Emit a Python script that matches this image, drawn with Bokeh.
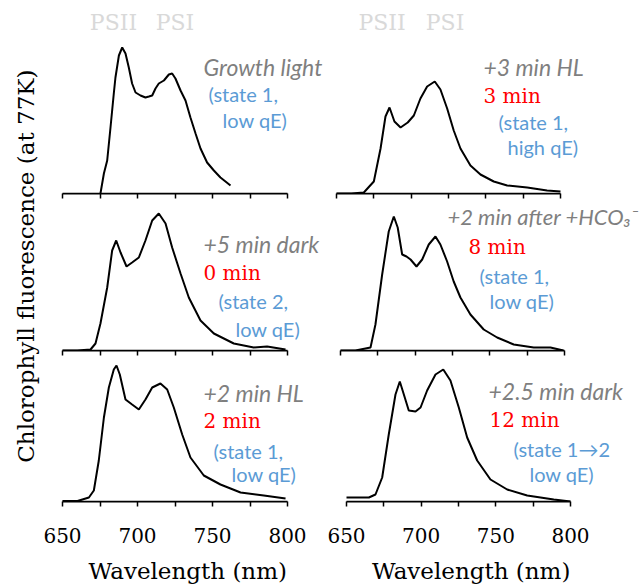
from bokeh.plotting import figure
from bokeh.models import Range1d, FixedTicker, Label
from bokeh.layouts import row, column
from bokeh.embed import file_html
from bokeh.resources import INLINE

# 77K chlorophyll fluorescence emission spectra (relative units)
wl_growth = [675.3, 677.6, 679.8, 682, 684.2, 685.3, 687.6, 689.8, 692, 694.2, 696.4, 698.7, 702,
             705.3, 707.6, 709.8, 712, 714.2, 717.6, 720.9, 723.1, 725.3, 728.7, 732, 735.3,
             738.7, 742, 746.4, 750.9, 755.3, 762]
fl_growth = [0, 20, 33, 66, 100, 116, 138, 146, 140, 126, 110, 101, 98,
             96, 97, 98, 105, 110, 113, 119, 120, 115, 103, 93, 76,
             60, 45, 31, 23, 16, 8]

wl_hl3 = [650, 660, 668.3, 675, 679.5, 682.8, 685.5, 688.8, 692.9, 697.7, 701.8, 706.2, 710.7,
          715.8, 719.6, 724.1, 728.5, 733, 739.7, 746.4, 755.3, 764.3, 777.7, 791, 800]
fl_hl3 = [0, 0, 1, 12, 45, 77, 86, 72, 66, 71, 78, 95, 107,
          112, 104, 85, 63, 45, 28, 19, 12, 8, 6, 3, 2]

wl_dark5 = [650, 660, 668.7, 672, 675.3, 679.8, 683.1, 685.8, 688.7, 692.7, 696.4, 700.9, 705.3,
            709.8, 714.2, 718.7, 723.1, 728.7, 734.2, 742, 750.9, 764.2, 777.5, 786.4, 798.7]
fl_dark5 = [0, 0, 1, 7, 27, 63, 100, 110, 98, 84, 88, 93, 110,
            130, 137, 127, 103, 77, 53, 30, 17, 7, 3, 4, 1]

wl_hco3 = [650, 660, 670.1, 673.4, 677.9, 682.3, 685.7, 688.3, 691.3, 694.2, 696.9, 700.9, 704.7,
           709.1, 713.6, 716.9, 721.4, 725.8, 730.3, 737, 745.9, 754.9, 766, 779.4, 790.6, 799.3]
fl_hco3 = [0, 0, 3, 26, 76, 119, 134, 123, 96, 94, 91, 84, 91,
           106, 114, 106, 89, 69, 53, 36, 21, 13, 6, 3, 3, 0]

wl_hl2 = [650, 660, 667.6, 670.9, 674.2, 677.6, 680.9, 684.2, 686, 688.2, 692, 696.4, 700.9,
          705.3, 709.8, 715.3, 719.8, 724.2, 729.8, 735.3, 744.2, 755.3, 768.7, 784.2, 798.7]
fl_hl2 = [0.5, 0.5, 4, 11, 41, 84, 114, 132, 136, 127, 102, 97, 92,
          102, 114, 118, 112, 94, 67, 44, 26, 17, 9, 6, 3]

wl_dark25 = [650, 660, 665, 669.4, 673.9, 678.3, 682.8, 685.7, 688.4, 691.7, 696.2, 699.6, 704,
             709.6, 714.8, 719.6, 725.2, 730.8, 737.5, 746.4, 757.6, 771, 788.8, 800]
fl_dark25 = [4, 4, 4, 7, 24, 67, 107, 120, 107, 91, 90, 94, 111,
             127, 132, 121, 94, 64, 41, 22, 12, 6, 2, 0]

labelled_ticks = [650, 700, 750, 800]
unlabelled_ticks = [675, 725, 775]
all_ticks = [650, 675, 700, 725, 750, 775, 800]

GRAY = "#7f7f7f"
RED = "#ff0000"
BLUE = "#5b9bd5"
PS_GRAY = "#d9d9d9"
SERIF = "DejaVu Serif"
SANS = "Lato"


def x_range_for(width, left_px, span_px):
    # the frame fills the canvas; 650-800 nm occupies span_px pixels starting at left_px
    scale = span_px / 150.0
    x0 = 650 - left_px / scale
    return Range1d(x0, x0 + width / scale)


def blank(width, height, x_range, y_max):
    p = figure(width=width, height=height, x_range=x_range, y_range=Range1d(0, y_max),
               output_backend="svg", toolbar_location=None,
               x_axis_location=None, y_axis_location=None, min_border=0,
               min_border_left=0, min_border_right=0, min_border_top=0, min_border_bottom=0)
    p.outline_line_color = None
    p.xgrid.visible = False
    p.ygrid.visible = False
    return p


def panel(wl, fl, width, left_px, span_px, frame_h, bottom, labelled):
    p = figure(width=width, height=frame_h + bottom,
               x_range=x_range_for(width, left_px, span_px), y_range=Range1d(0, frame_h),
               output_backend="svg", toolbar_location=None, y_axis_location=None,
               min_border=0, min_border_left=0, min_border_right=0,
               min_border_top=0, min_border_bottom=bottom)
    p.outline_line_color = None
    p.xgrid.visible = False
    p.ygrid.visible = False
    p.background_fill_color = "white"
    p.border_fill_color = "white"
    p.line(wl, fl, line_color="black", line_width=2)

    ax = p.xaxis[0]
    ax.bounds = (650, 800)
    ax.axis_line_color = "black"
    ax.axis_line_width = 1.75
    for pre in ("major", "minor"):
        setattr(ax, pre + "_tick_line_color", "black")
        setattr(ax, pre + "_tick_line_width", 1.5)
        setattr(ax, pre + "_tick_in", 0)
        setattr(ax, pre + "_tick_out", 5)
    if labelled:
        ax.ticker = FixedTicker(ticks=labelled_ticks, minor_ticks=unlabelled_ticks)
        ax.major_label_text_font = SERIF
        ax.major_label_text_font_size = "20px"
        ax.major_label_text_color = "black"
        ax.major_label_standoff = 21
    else:
        ax.ticker = FixedTicker(ticks=[], minor_ticks=all_ticks)
        ax.major_label_standoff = 0
    return p


def note(p, x, y, text, color, font, style="normal", size="20px"):
    p.add_layout(Label(x=x, y=y, text=text, text_color=color, text_font=font,
                       text_font_style=style, text_font_size=size,
                       text_align="left", text_baseline="alphabetic"))


def ps_marks(p, x_psii, x_psi):
    for x, t in ((x_psii, "PSII"), (x_psi, "PSI")):
        p.add_layout(Label(x=x, y=171, text=t, text_color=PS_GRAY, text_font=SERIF,
                           text_font_size="22px", text_align="center", text_baseline="middle"))


def x_title(width, left_px, span_px):
    s = blank(width, 25, x_range_for(width, left_px, span_px), 25)
    s.add_layout(Label(x=733.5, y=14, text="Wavelength (nm)", text_font=SERIF,
                       text_font_size="23px", text_color="black",
                       text_align="center", text_baseline="alphabetic"))
    return s


ITAL = "23px"

# top row
tl = panel(wl_growth, fl_growth, 283, 20, 225, 193, 8, False)
ps_marks(tl, 684, 725)
note(tl, 744, 127, "Growth light", GRAY, SANS, "italic", ITAL)
note(tl, 747.3, 100, "(state 1,", BLUE, SANS)
note(tl, 756.7, 74, "low qE)", BLUE, SANS)

tr = panel(wl_hl3, fl_hl3, 317, 11, 224, 193, 8, False)
ps_marks(tr, 680.5, 722.7)
note(tr, 748.4, 127, "+3 min HL", GRAY, SANS, "italic", ITAL)
note(tr, 748.4, 98, "3 min", RED, SERIF)
note(tr, 758.5, 72, "(state 1,", BLUE, SANS)
note(tr, 764.5, 47, "high qE)", BLUE, SANS)

# middle row
ml = panel(wl_dark5, fl_dark5, 283, 20, 225, 149, 8, False)
note(ml, 744, 107, "+5 min dark", GRAY, SANS, "italic", ITAL)
note(ml, 744, 78, "0 min", RED, SERIF)
note(ml, 754, 50, "(state 2,", BLUE, SANS)
note(ml, 765.3, 22, "low qE)", BLUE, SANS)

mr = panel(wl_hco3, fl_hco3, 317, 15, 224, 149, 8, False)
note(mr, 721.6, 134, "+2 min after +HCO\u2083\u207b", GRAY, SANS, "italic", "22px")
note(mr, 735.7, 104, "8 min", RED, SERIF)
note(mr, 743.1, 75, "(state 1,", BLUE, SANS)
note(mr, 749.8, 50, "low qE)", BLUE, SANS)

# bottom row
bl = panel(wl_hl2, fl_hl2, 283, 20, 225, 143, 58, True)
note(bl, 744, 109, "+2 min HL", GRAY, SANS, "italic", ITAL)
note(bl, 744, 81, "2 min", RED, SERIF)
note(bl, 750.7, 51, "(state 1,", BLUE, SANS)
note(bl, 762.7, 28, "low qE)", BLUE, SANS)

br = panel(wl_dark25, fl_dark25, 317, 21, 224, 143, 58, True)
note(br, 745.1, 111, "+2.5 min dark", GRAY, SANS, "italic", ITAL)
note(br, 745.8, 82, "12 min", RED, SERIF)
note(br, 761.8, 53, "(state 1\u21922", BLUE, SANS)
note(br, 772.5, 28, "low qE)", BLUE, SANS)

# shared y-axis title
yl = blank(42, 584, Range1d(0, 42), 584)
yl.add_layout(Label(x=25, y=322, text="Chlorophyll fluorescence  (at 77K)", angle=90,
                    angle_units="deg", text_align="center", text_baseline="middle",
                    text_font=SERIF, text_font_size="23px", text_color="black"))

layout = row(yl, column(row(tl, tr), row(ml, mr), row(bl, br),
                        row(x_title(283, 20, 225), x_title(317, 21, 224))))

open("out.html", "w").write(file_html(layout, INLINE))
